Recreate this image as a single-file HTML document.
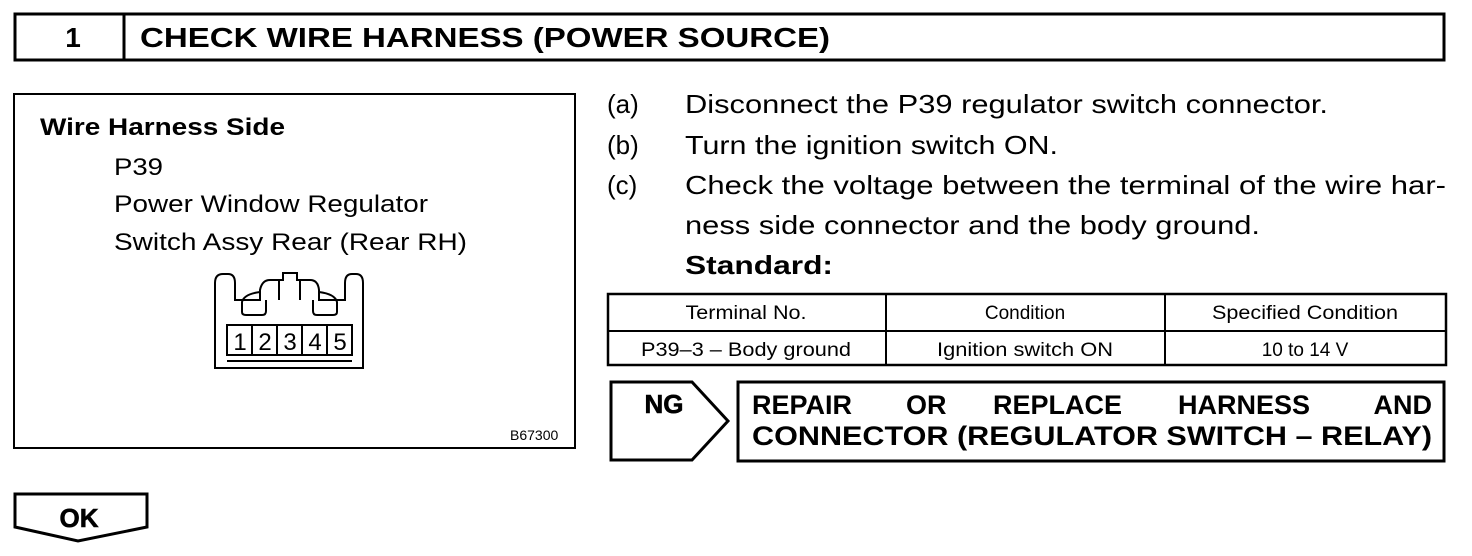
<!DOCTYPE html>
<html><head><meta charset="utf-8"><style>
html,body{margin:0;padding:0;background:#fff}
svg{display:block}
text{font-family:"Liberation Sans",Arial,sans-serif;fill:#000}
.b{font-weight:bold}
</style></head><body>
<svg width="1472" height="556" viewBox="0 0 1472 556" xmlns="http://www.w3.org/2000/svg">
<g fill="none" stroke="#000" stroke-width="3">
<rect x="15" y="14" width="1429" height="46"/>
<line x1="124" y1="14" x2="124" y2="60"/>
<rect x="14" y="94" width="561" height="354" stroke-width="2"/>
<rect x="608" y="294" width="838" height="71" stroke-width="2.5"/>
<line x1="608" y1="331" x2="1446" y2="331" stroke-width="2"/>
<line x1="886" y1="294" x2="886" y2="365" stroke-width="2"/>
<line x1="1165" y1="294" x2="1165" y2="365" stroke-width="2"/>
<polygon points="611,382 692,382 728,421 692,460 611,460"/>
<rect x="738" y="382" width="706" height="79"/>
<polygon points="15,494 147,494 147,527 78,541 15,527"/>
</g>
<g fill="none" stroke="#000" stroke-width="2">
<path d="M215,368 L215,283 Q215,274 223,274 L228,274 Q235,274 235,283 L235,300 L260,300 L260,290 Q262,280 270,280 L283,280 L283,273 L297,273 L297,280 L310,280 Q318,280 319,290 L319,300 L345,300 L345,283 Q345,274 352,274 L356,274 Q363,274 363,283 L363,368 Z"/>
<path d="M260,292 Q244,294 242,302 L242,312 Q242,315 246,315 L262,315 Q266,315 266,311 L266,300"/>
<path d="M319,292 Q335,294 337,302 L337,312 Q337,315 333,315 L317,315 Q313,315 313,311 L313,300"/>
<line x1="279" y1="280" x2="279" y2="300"/><line x1="300" y1="280" x2="300" y2="300"/>
<rect x="227" y="325" width="125" height="30"/>
<line x1="252" y1="325" x2="252" y2="355"/><line x1="277" y1="325" x2="277" y2="355"/>
<line x1="302" y1="325" x2="302" y2="355"/><line x1="327" y1="325" x2="327" y2="355"/>
<line x1="227" y1="361" x2="352" y2="361"/>
</g>
<g font-size="24" text-anchor="middle">
<text x="240" y="350">1</text><text x="265" y="350">2</text><text x="290" y="350">3</text><text x="315" y="350">4</text><text x="340" y="350">5</text>
</g>
<text x="73" y="47" font-size="28" class="b" text-anchor="middle">1</text>
<text x="140" y="47" font-size="28" class="b" textLength="690" lengthAdjust="spacingAndGlyphs">CHECK WIRE HARNESS (POWER SOURCE)</text>
<text x="40" y="135" font-size="24" class="b" textLength="245" lengthAdjust="spacingAndGlyphs">Wire Harness Side</text>
<text x="114" y="175" font-size="24" textLength="49" lengthAdjust="spacingAndGlyphs">P39</text>
<text x="114" y="212" font-size="24" textLength="314" lengthAdjust="spacingAndGlyphs">Power Window Regulator</text>
<text x="114" y="250" font-size="24" textLength="353" lengthAdjust="spacingAndGlyphs">Switch Assy Rear (Rear RH)</text>
<text x="510" y="440" font-size="14">B67300</text>
<g font-size="26">
<text x="607" y="113">(a)</text><text x="685" y="113" textLength="643" lengthAdjust="spacingAndGlyphs">Disconnect the P39 regulator switch connector.</text>
<text x="607" y="154">(b)</text><text x="685" y="154" textLength="373" lengthAdjust="spacingAndGlyphs">Turn the ignition switch ON.</text>
<text x="607" y="194">(c)</text><text x="685" y="194" textLength="761" lengthAdjust="spacingAndGlyphs">Check the voltage between the terminal of the wire har-</text>
<text x="685" y="234" textLength="575" lengthAdjust="spacingAndGlyphs">ness side connector and the body ground.</text>
<text x="685" y="274" class="b" textLength="148" lengthAdjust="spacingAndGlyphs">Standard:</text>
</g>
<g font-size="19" text-anchor="middle">
<text x="746" y="319" textLength="121" lengthAdjust="spacingAndGlyphs">Terminal No.</text><text x="1025" y="319">Condition</text><text x="1305" y="319" textLength="186" lengthAdjust="spacingAndGlyphs">Specified Condition</text>
<text x="746" y="356" textLength="210" lengthAdjust="spacingAndGlyphs">P39–3 – Body ground</text><text x="1025" y="356" textLength="176" lengthAdjust="spacingAndGlyphs">Ignition switch ON</text><text x="1305" y="356">10 to 14 V</text>
</g>
<text x="664" y="413" font-size="26" class="b" text-anchor="middle" stroke="#000" stroke-width="0.6">NG</text>
<g font-size="27" class="b">
<text x="752" y="414">REPAIR</text><text x="906" y="414">OR</text><text x="993" y="414">REPLACE</text><text x="1178" y="414">HARNESS</text><text x="1432" y="414" text-anchor="end">AND</text>
<text x="752" y="445" textLength="680" lengthAdjust="spacingAndGlyphs">CONNECTOR (REGULATOR SWITCH – RELAY)</text>
</g>
<text x="79" y="527" font-size="26" class="b" text-anchor="middle" stroke="#000" stroke-width="0.6">OK</text>
</svg>
</body></html>
